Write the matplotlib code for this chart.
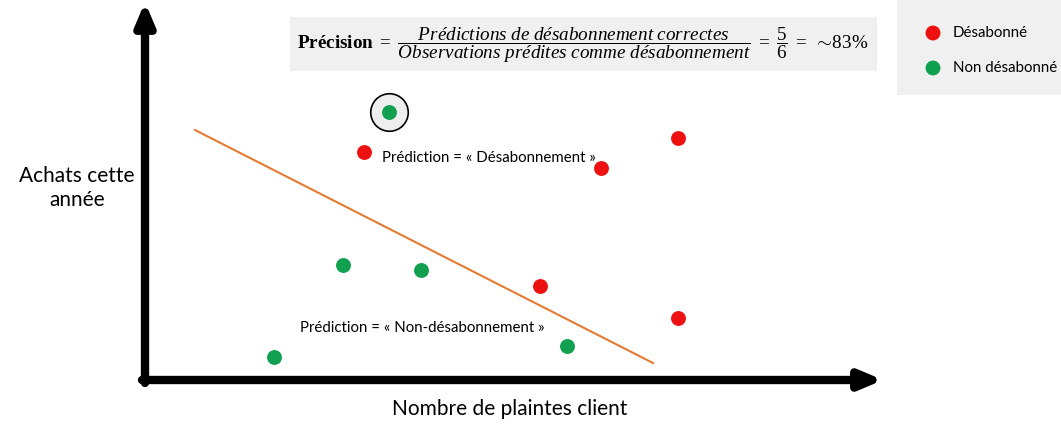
import matplotlib.pyplot as plt

plt.rcParams['font.family'] = ['Lato', 'DejaVu Sans']
plt.rcParams['mathtext.fontset'] = 'custom'
plt.rcParams['mathtext.rm'] = 'Liberation Serif'
plt.rcParams['mathtext.it'] = 'Liberation Serif:italic'
plt.rcParams['mathtext.bf'] = 'Liberation Serif:bold'

# data (units: relative to origin of the drawn axes)
churn_x = [219, 456, 533, 395, 533]
churn_y = [228, 212, 242, 94, 62]
stay_x = [244, 198, 276, 129, 422]
stay_y = [268, 115, 110, 23, 34]
circled = (244, 268)
line_x = [50, 508]
line_y = [250, 17]

RED = '#ee1111'
GREEN = '#10a050'
ORANGE = '#e57a32'
BOX = '#f0f0f0'


def box_axes(fig, rect, W, H):
    bx = fig.add_axes(rect)
    bx.set_xlim(0, rect[2] * W)
    bx.set_ylim(rect[3] * H, 0)
    bx.set_xticks([])
    bx.set_yticks([])
    for s in bx.spines.values():
        s.set_visible(False)
    bx.set_facecolor(BOX)
    return bx


def draw():
    fig = plt.figure(figsize=(10.61, 4.32), dpi=100)
    W, H = 1061, 432
    ax = fig.add_axes([145 / W, (H - 380) / H, 735 / W, 375 / H])
    ax.set_xlim(0, 735)
    ax.set_ylim(0, 375)
    ax.axis('off')

    # axes with arrows
    arrow = dict(arrowstyle='-|>,head_length=1.3,head_width=0.55',
                 lw=6, color='black', shrinkA=0, shrinkB=0)
    ax.annotate('', xy=(738, 0), xytext=(-3, 0), arrowprops=arrow,
                annotation_clip=False)
    ax.annotate('', xy=(0, 378), xytext=(0, -3), arrowprops=arrow,
                annotation_clip=False)

    ax.plot(line_x, line_y, color=ORANGE, lw=1.5, zorder=2)
    ax.scatter([circled[0]], [circled[1]], s=730, facecolor='#eeeeee',
               edgecolor='black', lw=1.2, zorder=3)
    ax.scatter(churn_x, churn_y, s=115, color=RED, zorder=4, lw=0)
    ax.scatter(stay_x, stay_y, s=115, color=GREEN, zorder=4, lw=0)

    ax.text(237, 222, 'Prédiction = « Désabonnement »', fontsize=10.8, va='center')
    ax.text(155, 52, 'Prédiction = « Non-désabonnement »', fontsize=10.8, va='center')

    fig.text(510 / W, 1 - 409 / H, 'Nombre de plaintes client', fontsize=15,
             ha='center', va='center')
    fig.text(77 / W, 1 - 188 / H, 'Achats cette\nannée', fontsize=15,
             ha='center', va='center', linespacing=1.25)

    # formula box
    fx = box_axes(fig, [290 / W, 1 - 71 / H, 587 / W, 54 / H], W, H)
    formula = (r'$\mathbf{Précision}\ =\ '
               r'\dfrac{\mathit{Prédictions\ de\ désabonnement\ correctes}}'
               r'{\mathit{Observations\ prédites\ comme\ désabonnement}}'
               r'\ =\ \dfrac{5}{6}\ =\ \sim\!83\%$')
    fx.text(293, 28, formula, fontsize=13.8, ha='center', va='center')

    # legend box
    lx = box_axes(fig, [897 / W, 1 - 95 / H, 164 / W, 95 / H], W, H)
    lx.scatter([36, 36], [33, 68], s=115, color=[RED, GREEN], lw=0)
    lx.text(56, 33, 'Désabonné', fontsize=10.8, va='center')
    lx.text(56, 68, 'Non désabonné', fontsize=10.8, va='center')

    fig.savefig('out.png', dpi=100)


def main():
    draw()


if __name__ == '__main__':
    main()
